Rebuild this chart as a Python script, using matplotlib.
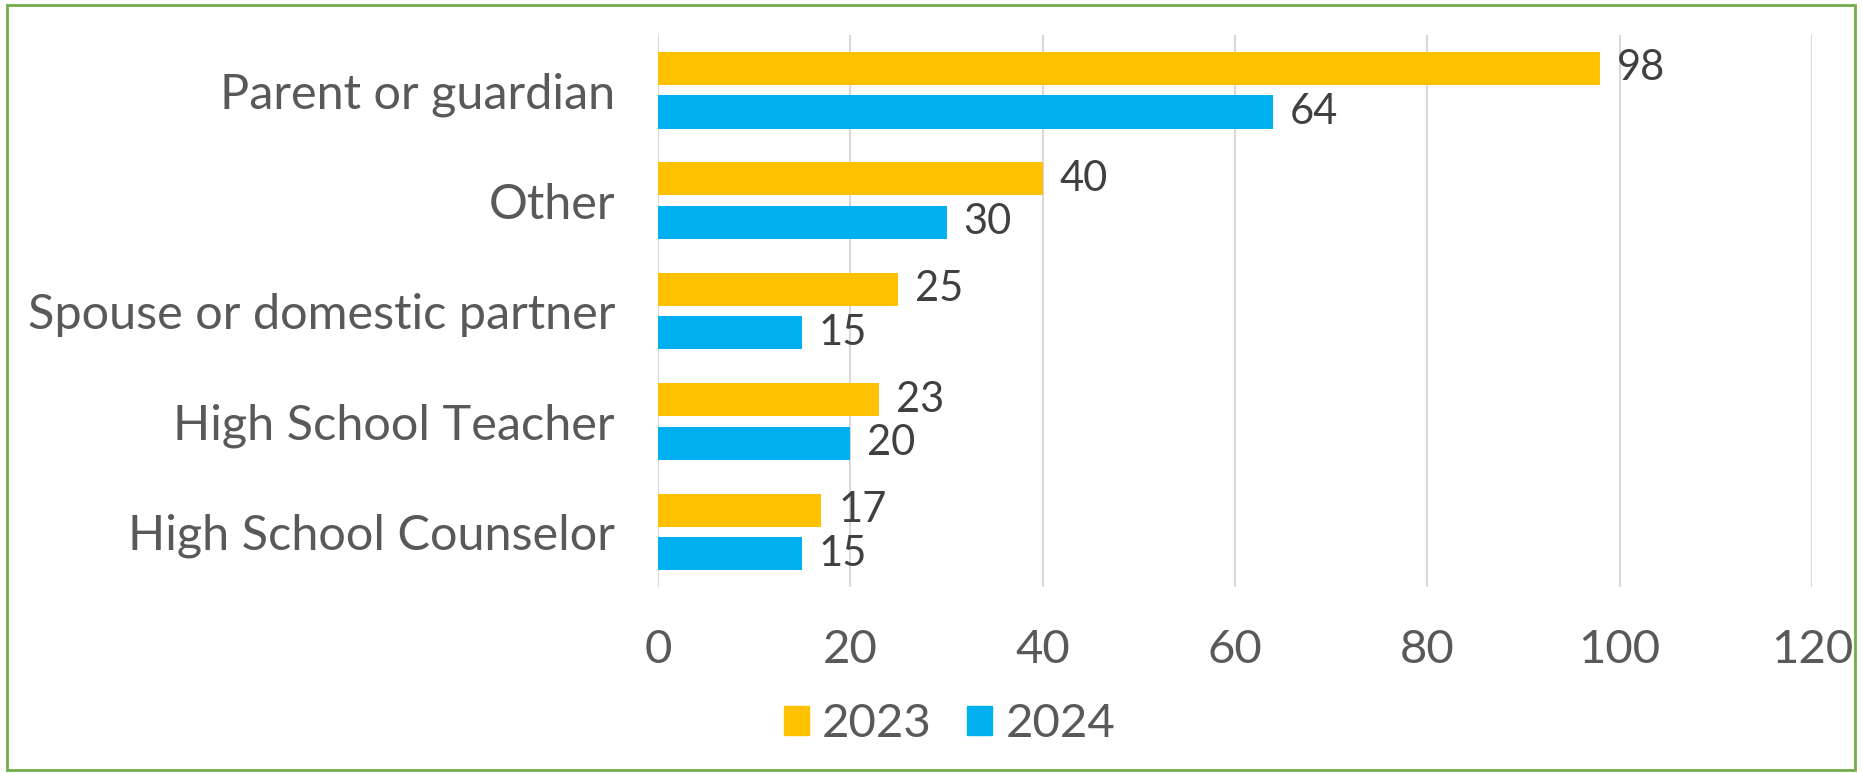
import matplotlib.pyplot as plt
from matplotlib.patches import Patch, Rectangle
import numpy as np

categories = ['Parent or guardian', 'Other', 'Spouse or domestic partner',
              'High School Teacher', 'High School Counselor']
vals_2023 = [98, 40, 25, 23, 17]
vals_2024 = [64, 30, 15, 20, 15]
series_names = ['2023', '2024']
xticks = [0, 20, 40, 60, 80, 100, 120]

c2023 = '#FFC000'
c2024 = '#00B0F0'
plt.rcParams['font.family'] = ['Lato', 'DejaVu Sans']

fig = plt.figure(figsize=(18.62, 7.73), dpi=100)
ax = fig.add_axes([0.3534, 0.2406, 0.6197, 0.7141])

y = np.arange(len(categories))
h = 0.30
off = 0.197
b1 = ax.barh(y - off, vals_2023, height=h, color=c2023, zorder=3)
b2 = ax.barh(y + off, vals_2024, height=h, color=c2024, zorder=3)

for bars, vals in ((b1, vals_2023), (b2, vals_2024)):
    for b, v in zip(bars, vals):
        ax.annotate(str(v), (b.get_width(), b.get_y() + b.get_height() / 2),
                    xytext=(12, 0), textcoords='offset points',
                    va='center', ha='left', fontsize=30, color='#404040')

ax.set_ylim(len(categories) - 0.5, -0.5)
ax.set_xlim(0, 120)
ax.set_xticks(xticks)
ax.set_yticks(y)
ax.set_yticklabels(categories)
ax.tick_params(axis='y', length=0, pad=31, labelsize=35, labelcolor='#595959')
ax.tick_params(axis='x', length=0, pad=30, labelsize=34, labelcolor='#595959')
ax.grid(axis='x', color='#D9D9D9', linewidth=1.5, zorder=0)
for s in ax.spines.values():
    s.set_visible(False)

handles = [Patch(color=c2023, label=series_names[0]),
           Patch(color=c2024, label=series_names[1])]
leg = fig.legend(handles=handles, loc='center', bbox_to_anchor=(0.510, 0.063),
                 ncol=2, frameon=False, fontsize=34, handlelength=0.53,
                 handleheight=0.55, handletextpad=0.28, columnspacing=0.75)
for t in leg.get_texts():
    t.set_color('#595959')

fig.patches.append(Rectangle((0.0035, 0.004), 0.993, 0.990, transform=fig.transFigure,
                             fill=False, edgecolor='#70AD47', linewidth=2))

fig.savefig('out.png', dpi=100)
